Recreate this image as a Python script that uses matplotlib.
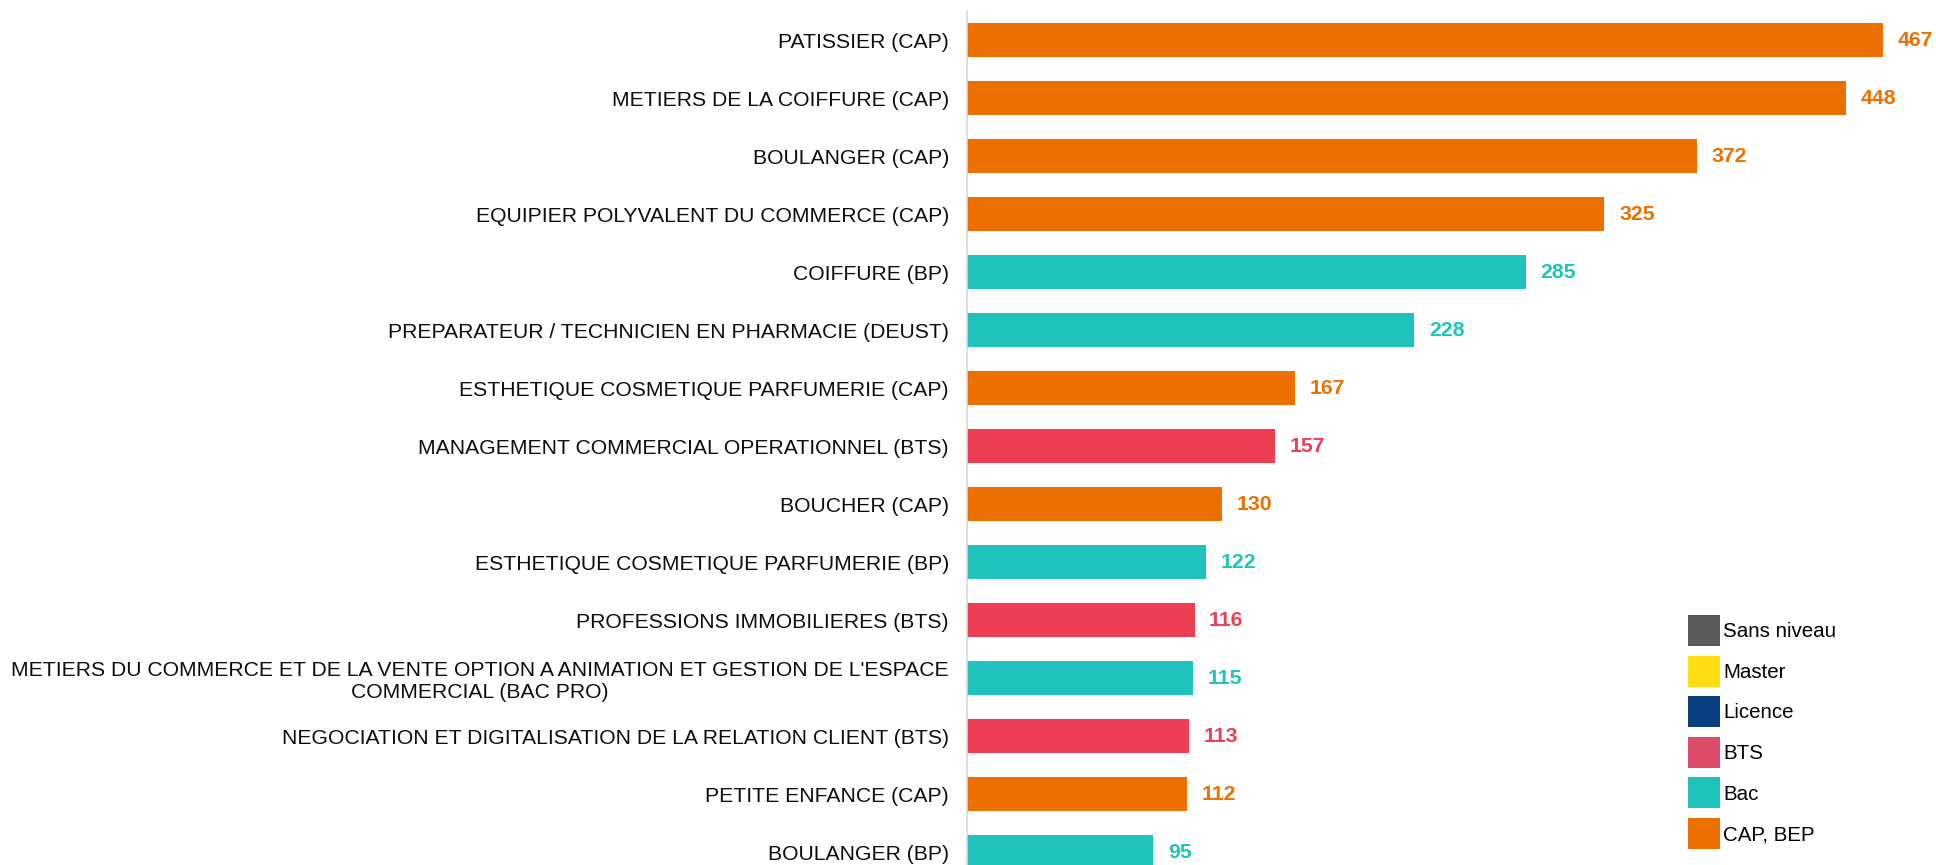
import matplotlib
matplotlib.use("Agg")
import matplotlib.pyplot as plt
from matplotlib.patches import Patch

plt.rcParams["font.family"] = ["Liberation Sans", "DejaVu Sans"]

# Formations et effectifs
formations = [
    "PATISSIER (CAP)",
    "METIERS DE LA COIFFURE (CAP)",
    "BOULANGER (CAP)",
    "EQUIPIER POLYVALENT DU COMMERCE (CAP)",
    "COIFFURE (BP)",
    "PREPARATEUR / TECHNICIEN EN PHARMACIE (DEUST)",
    "ESTHETIQUE COSMETIQUE PARFUMERIE (CAP)",
    "MANAGEMENT COMMERCIAL OPERATIONNEL (BTS)",
    "BOUCHER (CAP)",
    "ESTHETIQUE COSMETIQUE PARFUMERIE (BP)",
    "PROFESSIONS IMMOBILIERES (BTS)",
    "METIERS DU COMMERCE ET DE LA VENTE OPTION A ANIMATION ET GESTION DE L'ESPACE\nCOMMERCIAL (BAC PRO)",
    "NEGOCIATION ET DIGITALISATION DE LA RELATION CLIENT (BTS)",
    "PETITE ENFANCE (CAP)",
    "BOULANGER (BP)",
]
effectifs = [467, 448, 372, 325, 285, 228, 167, 157, 130, 122, 116, 115, 113, 112, 95]
niveaux = ["CAP, BEP", "CAP, BEP", "CAP, BEP", "CAP, BEP", "Bac", "Bac", "CAP, BEP",
           "BTS", "CAP, BEP", "Bac", "BTS", "Bac", "BTS", "CAP, BEP", "Bac"]

legende_niveaux = ["Sans niveau", "Master", "Licence", "BTS", "Bac", "CAP, BEP"]

couleurs_barres = {"CAP, BEP": "#EC7000", "Bac": "#20C3BB", "BTS": "#EE3E55"}
couleurs_legende = {"Sans niveau": "#5A5A5A", "Master": "#FFDD15", "Licence": "#0B3F80",
                    "BTS": "#DD4B6A", "Bac": "#20C3BB", "CAP, BEP": "#EC7000"}

W, H = 1936, 865
fig = plt.figure(figsize=(W / 100, H / 100), dpi=100)

# Axes: left edge on the baseline, categories spaced 58 px, top band starts at y=11
x0, x1 = 967, 1936
top = 11
n = len(formations)
bottom = top + 58 * n
ax = fig.add_axes([x0 / W, 1 - bottom / H, (x1 - x0) / W, (bottom - top) / H])

pos = list(range(n))
cols = [couleurs_barres[nv] for nv in niveaux]
ax.barh(pos, effectifs, height=0.6, color=cols, edgecolor="none")
ax.set_ylim(n - 0.5, -0.5)
ax.set_xlim(0, (x1 - x0) * 467 / (1883 - 967))

ax.set_yticks(pos)
ax.set_yticklabels(formations, fontsize=15.2, color="#0d0d0d", multialignment="center",
                   linespacing=1.22)
ax.tick_params(axis="y", length=0, pad=13)
ax.set_xticks([])

for s in ["top", "right", "bottom"]:
    ax.spines[s].set_visible(False)
ax.spines["left"].set_color("#D9D9D9")
ax.spines["left"].set_linewidth(1.2)

for p, v, c in zip(pos, effectifs, cols):
    ax.annotate(str(v), (v, p), xytext=(10.5, 0), textcoords="offset points",
                va="center", ha="left", fontsize=15.3, fontweight="bold", color=c)

handles = [Patch(facecolor=couleurs_legende[k], edgecolor="none", label=k) for k in legende_niveaux]
fig.legend(handles=handles, loc="upper left", bbox_to_anchor=(1688 / W, 1 - 615 / H),
           frameon=False, fontsize=14.8, borderpad=0, borderaxespad=0,
           handlelength=1.555, handleheight=1.94, handletextpad=0.15, labelspacing=0.47)

fig.savefig("out.png", dpi=100)
